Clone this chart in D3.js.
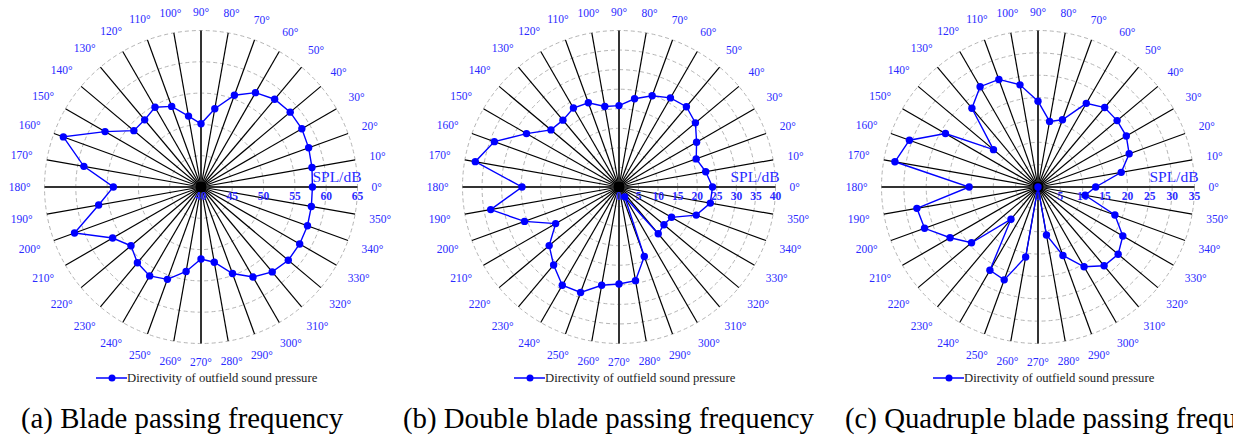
<!DOCTYPE html>
<html>
<head>
<meta charset="utf-8">
<script src="https://cdn.jsdelivr.net/npm/d3@7"></script>
<style>
  html, body { margin: 0; padding: 0; background: #fff; }
  svg { display: block; }
  text { font-family: "Liberation Serif", "Times New Roman", serif; }
</style>
</head>
<body>
<svg id="chart" width="1233" height="439"></svg>
<script>
// Measurement directions (degrees, counter-clockwise from 0°)
const directions = [0, 10, 20, 30, 40, 50, 60, 70, 80, 90, 100, 110, 120, 130, 140, 150, 160, 170,
                    180, 190, 200, 210, 220, 230, 240, 250, 260, 270, 280, 290, 300, 310, 320, 330, 340, 350];

// Outfield SPL (dB) at blade passing frequency
const splBladePassing = [57.8, 58.0, 58.3, 58.6, 58.6, 58.3, 57.4, 55.6, 52.7, 50.1, 51.5, 53.7,
                         54.7, 54.0, 54.0, 57.7, 63.4, 59.0, 54.0, 56.6, 61.5, 56.3, 54.6, 55.8,
                         56.4, 55.7, 53.7, 51.5, 52.2, 54.7, 56.6, 57.7, 58.2, 58.2, 58.1, 57.9];

// Outfield SPL (dB) at double blade passing frequency
const splDoubleBlade = [23.9, 22.5, 21.0, 22.9, 25.5, 26.8, 26.3, 24.8, 22.9, 20.8, 20.9, 22.9,
                        23.3, 22.3, 22.7, 27.3, 33.9, 37.3, 24.8, 33.3, 25.7, 18.7, 23.3, 26.0,
                        29.0, 28.7, 25.5, 24.8, 24.3, 18.9, 2.9, 15.6, 15.0, 15.5, 21.0, 23.7];

// Outfield SPL (dB) at quadruple blade passing frequency
const splQuadrupleBlade = [12.9, 18.9, 21.7, 22.8, 23.1, 23.2, 21.6, 16.0, 14.9, 19.2, 23.2, 25.6,
                           25.9, 23.0, 13.0, 23.9, 30.6, 32.5, 15.4, 27.5, 27.0, 22.7, 19.4, 9.4,
                           21.5, 22.1, 15.9, 0.0, 10.9, 16.3, 20.6, 23.0, 23.4, 21.9, 18.3, 10.7];

// Radial tick labels (dB)
const ticksBladePassing = [40, 45, 50, 55, 60, 65];
const ticksDoubleBlade = [0, 5, 10, 15, 20, 25, 30, 35, 40];
const ticksQuadrupleBlade = [0, 5, 10, 15, 20, 25, 30, 35];

const captions = ["(a) Blade passing frequency",
                  "(b) Double blade passing frequency",
                  "(c) Quadruple blade passing frequency"];
const radialTitle = "SPL/dB";
const legendLabel = "Directivity of outfield sound pressure";

// ---- layout ----
const layout = {
  cy: 187,
  radius: 156.5,
  centers: [201, 619, 1038],
  captionX: [21, 403, 845],
  captionY: 428,
  legendY: 378
};
const BLUE = "#0000ff";
const LABEL_BLUE = "#2a2aff";

const svg = d3.select("#chart");

const panels = [
  { values: splBladePassing, ticks: ticksBladePassing },
  { values: splDoubleBlade, ticks: ticksDoubleBlade },
  { values: splQuadrupleBlade, ticks: ticksQuadrupleBlade }
];

const toRad = d => d * Math.PI / 180;

panels.forEach((p, i) => {
  const cx = layout.centers[i], cy = layout.cy, R = layout.radius;
  const g = svg.append("g").attr("transform", `translate(${cx},${cy})`);

  const r = d3.scaleLinear()
    .domain([p.ticks[0], p.ticks[p.ticks.length - 1]])
    .range([0, R]);

  // dashed grid rings
  g.append("g").selectAll("circle")
    .data(p.ticks.slice(1))
    .join("circle")
    .attr("r", d => r(d))
    .attr("fill", "none")
    .attr("stroke", "#b4b4b4")
    .attr("stroke-width", 1)
    .attr("stroke-dasharray", "4,3");

  // spokes every 10°
  const spokeDirs = directions.filter(a => a % 90 !== 0);
  g.append("g").selectAll("line")
    .data(spokeDirs)
    .join("line")
    .attr("x1", 0).attr("y1", 0)
    .attr("x2", a => R * Math.cos(toRad(a)))
    .attr("y2", a => -R * Math.sin(toRad(a)))
    .attr("stroke", "#000")
    .attr("stroke-width", 1.2);

  // main axes
  g.append("g").selectAll("line")
    .data(directions.filter(a => a % 90 === 0))
    .join("line")
    .attr("x1", 0).attr("y1", 0)
    .attr("x2", a => R * Math.cos(toRad(a)))
    .attr("y2", a => -R * Math.sin(toRad(a)))
    .attr("stroke", "#333")
    .attr("stroke-width", 2);

  // hub
  g.append("circle").attr("r", 5.5).attr("fill", "#000");

  // angle labels
  const angleLabels = g.append("g").selectAll("text")
    .data(directions)
    .join("text")
    .attr("font-size", 11.5)
    .attr("fill", LABEL_BLUE)
    .attr("text-anchor", "middle")
    .attr("dominant-baseline", "central")
    .text(a => a + "°");
  angleLabels.each(function (a) {
    const w = this.getComputedTextLength();
    const h = 9;
    const th = toRad(a);
    const rr = R + 14 + (w / 2) * Math.abs(Math.cos(th)) + (h / 2) * Math.abs(Math.sin(th));
    d3.select(this)
      .attr("x", rr * Math.cos(th))
      .attr("y", -rr * Math.sin(th));
  });

  // radial tick labels along 0°
  g.append("g").selectAll("text")
    .data(p.ticks)
    .join("text")
    .attr("x", d => r(d))
    .attr("y", 12.5)
    .attr("font-size", 11.5)
    .attr("font-weight", "bold")
    .attr("fill", LABEL_BLUE)
    .attr("text-anchor", "middle")
    .text(d => d);

  g.append("text")
    .attr("x", R + 4)
    .attr("y", -5)
    .attr("font-size", 15.5)
    .attr("fill", LABEL_BLUE)
    .attr("text-anchor", "end")
    .text(radialTitle);

  // directivity curve
  const pts = directions.map((a, k) => ({ a, v: p.values[k] }));
  const line = d3.lineRadial()
    .angle(d => toRad(90 - d.a))
    .radius(d => r(d.v))
    .curve(d3.curveLinearClosed);
  g.append("path")
    .datum(pts)
    .attr("d", line)
    .attr("fill", "none")
    .attr("stroke", BLUE)
    .attr("stroke-width", 1.4);

  g.append("g").selectAll("circle")
    .data(pts)
    .join("circle")
    .attr("cx", d => r(d.v) * Math.cos(toRad(d.a)))
    .attr("cy", d => -r(d.v) * Math.sin(toRad(d.a)))
    .attr("r", 3.7)
    .attr("fill", BLUE);

  // legend
  const lg = svg.append("g").attr("transform", `translate(${cx - 105},${layout.legendY})`);
  lg.append("line").attr("x1", 0).attr("x2", 31).attr("y1", 0).attr("y2", 0)
    .attr("stroke", BLUE).attr("stroke-width", 1.5);
  lg.append("circle").attr("cx", 16).attr("cy", 0).attr("r", 3.5).attr("fill", BLUE);
  lg.append("text").attr("x", 31).attr("y", 4)
    .attr("font-size", 12.7).attr("fill", "#222")
    .text(legendLabel);

  // caption
  svg.append("text")
    .attr("x", layout.captionX[i])
    .attr("y", layout.captionY)
    .attr("font-size", 28.8)
    .attr("fill", "#000")
    .text(captions[i]);
});
</script>
</body>
</html>
